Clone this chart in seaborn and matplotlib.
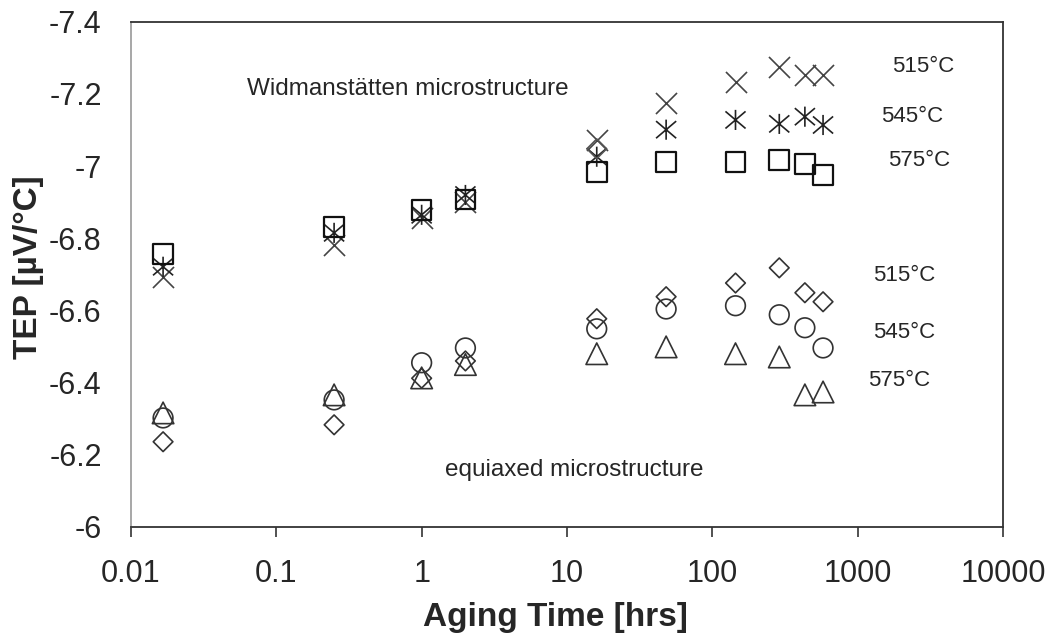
import matplotlib
matplotlib.use("Agg")
import matplotlib.pyplot as plt
from matplotlib.path import Path
from matplotlib.ticker import NullLocator
import seaborn as sns
import numpy as np

# ---- data (aging time in hours, TEP in µV/°C) ----
times = [1/60, 0.25, 1, 2, 16, 48, 144, 288, 432, 576]

wid_515 = [-6.693, -6.782, -6.857, -6.900, -7.073, -7.175, -7.234, -7.275, -7.253, -7.253]
wid_545 = [-6.721, -6.815, -6.865, -6.920, -7.026, -7.101, -7.128, -7.117, -7.137, -7.114]
wid_575 = [-6.757, -6.832, -6.879, -6.907, -6.984, -7.012, -7.012, -7.017, -7.006, -6.976]

equ_515 = [-6.236, -6.283, -6.412, -6.460, -6.577, -6.638, -6.676, -6.718, -6.649, -6.624]
equ_545 = [-6.302, -6.352, -6.455, -6.496, -6.549, -6.604, -6.613, -6.588, -6.552, -6.496]
equ_575 = [-6.316, -6.366, -6.413, -6.450, -6.480, -6.499, -6.480, -6.471, -6.366, -6.374]

extra_time = [16]
extra_val = [-7.048]

x_ticks = [0.01, 0.1, 1, 10, 100, 1000, 10000]
x_tick_labels = ["0.01", "0.1", "1", "10", "100", "1000", "10000"]
y_ticks = [-6.0, -6.2, -6.4, -6.6, -6.8, -7.0, -7.2, -7.4]
y_tick_labels = ["-6", "-6.2", "-6.4", "-6.6", "-6.8", "-7", "-7.2", "-7.4"]

temp_labels = ["515°C", "545°C", "575°C"]
# ---------------------------------------------------

sns.set_style("white")
plt.rcParams["font.family"] = ["Liberation Sans", "DejaVu Sans"]

fig = plt.figure(figsize=(10.55, 6.41), dpi=100)
ax = fig.add_axes([0.124, 0.178, 0.827, 0.788])

asterisk = Path(
    [(0, -1), (0, 1), (-1, -0.85), (1, 0.85), (-1, 0.85), (1, -0.85)],
    [Path.MOVETO, Path.LINETO, Path.MOVETO, Path.LINETO, Path.MOVETO, Path.LINETO],
)

lw = 1.2
sns.scatterplot(x=times, y=wid_515, marker="x", s=230, color="#444444", linewidth=lw, ax=ax)
sns.scatterplot(x=times, y=wid_545, marker=asterisk, s=210, color="#222222",
                facecolor="none", edgecolor="#222222", linewidth=lw, ax=ax)
sns.scatterplot(x=times, y=wid_575, marker="s", s=200, color="black",
                facecolor="none", edgecolor="#111111", linewidth=1.6, ax=ax)
sns.scatterplot(x=extra_time, y=extra_val, marker="D", s=100, color="#555555",
                facecolor="none", edgecolor="#555555", linewidth=lw, ax=ax)

sns.scatterplot(x=times, y=equ_515, marker="D", s=100, color="#333333",
                facecolor="none", edgecolor="#333333", linewidth=lw, ax=ax)
sns.scatterplot(x=times, y=equ_545, marker="o", s=200, color="#333333",
                facecolor="none", edgecolor="#333333", linewidth=lw, ax=ax)
sns.scatterplot(x=times, y=equ_575, marker="^", s=240, color="#333333",
                facecolor="none", edgecolor="#333333", linewidth=lw, ax=ax)

ax.set_xscale("log")
ax.set_xlim(0.01, 10000)
ax.set_xticks(x_ticks)
ax.set_xticklabels(x_tick_labels)
ax.xaxis.set_minor_locator(NullLocator())
ax.set_ylim(-6.0, -7.4)
ax.set_yticks(y_ticks)
ax.set_yticklabels(y_tick_labels)

ax.tick_params(axis="x", direction="out", length=7, width=1.2, color="#333333",
               labelsize=22, pad=16, bottom=True)
ax.tick_params(axis="y", length=0, labelsize=22, pad=21, left=False)

for side in ["top", "right", "bottom"]:
    ax.spines[side].set_color("#333333")
    ax.spines[side].set_linewidth(1.3)
ax.spines["left"].set_color("#a0a0a0")
ax.spines["left"].set_linewidth(1.3)

ax.set_xlabel("Aging Time [hrs]", fontsize=24, fontweight="bold")
ax.set_ylabel("TEP [µV/°C]", fontsize=24, fontweight="bold")
ax.xaxis.set_label_coords(0.487, -0.148)
ax.yaxis.set_label_coords(-0.100, 0.515)

ax.text(0.0629, -7.215, "Widmanstätten microstructure", fontsize=17.5, ha="left", va="center")
ax.text(1.449, -6.158, "equiaxed microstructure", fontsize=17.5, ha="left", va="center")

top_pos = [(1726, -7.275), (1452, -7.137), (1622, -7.015)]
bot_pos = [(1279, -6.696), (1279, -6.538), (1180, -6.407)]
for lab, (tx, ty) in zip(temp_labels, top_pos):
    ax.text(tx, ty, lab, fontsize=16, ha="left", va="center")
for lab, (tx, ty) in zip(temp_labels, bot_pos):
    ax.text(tx, ty, lab, fontsize=16, ha="left", va="center")

fig.savefig("out.png", dpi=100)
